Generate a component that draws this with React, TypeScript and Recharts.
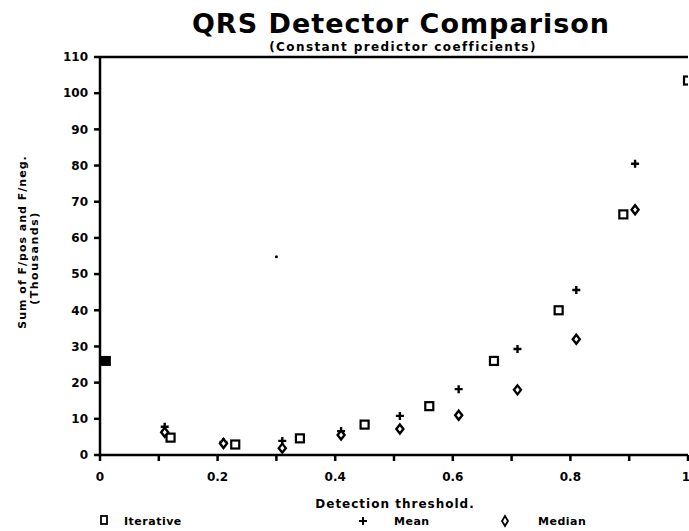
import React from 'react';
import { ScatterChart, Scatter, XAxis, YAxis, ReferenceLine } from 'recharts';

// Detection threshold ticks (labels only on every other one)
const xTicks = [0, 0.1, 0.2, 0.3, 0.4, 0.5, 0.6, 0.7, 0.8, 0.9, 1];
const yTicks = [0, 10, 20, 30, 40, 50, 60, 70, 80, 90, 100, 110];

// Sum of F/pos and F/neg (thousands)
const iterative = [
  { x: 0.12, y: 4.8 },
  { x: 0.23, y: 2.9 },
  { x: 0.34, y: 4.6 },
  { x: 0.45, y: 8.4 },
  { x: 0.56, y: 13.5 },
  { x: 0.67, y: 26 },
  { x: 0.78, y: 40 },
  { x: 0.89, y: 66.5 },
  { x: 1.0, y: 103.5 },
];
const iterativeStart = [{ x: 0.01, y: 26 }];
const mean = [
  { x: 0.11, y: 7.8 },
  { x: 0.21, y: 3.6 },
  { x: 0.31, y: 3.9 },
  { x: 0.41, y: 6.6 },
  { x: 0.51, y: 10.8 },
  { x: 0.61, y: 18.2 },
  { x: 0.71, y: 29.3 },
  { x: 0.81, y: 45.6 },
  { x: 0.91, y: 80.5 },
];
const median = [
  { x: 0.11, y: 6.3 },
  { x: 0.21, y: 3.2 },
  { x: 0.31, y: 1.9 },
  { x: 0.41, y: 5.5 },
  { x: 0.51, y: 7.2 },
  { x: 0.61, y: 11 },
  { x: 0.71, y: 18 },
  { x: 0.81, y: 32 },
  { x: 0.91, y: 67.8 },
];
const stray = [{ x: 0.3, y: 54.8 }];

const font = '"DejaVu Sans", sans-serif';

const Square = (p: any) => (
  <rect x={p.cx - 4} y={p.cy - 4} width={8} height={8} fill="none" stroke="#000" strokeWidth={2.2} />
);
const FilledSquare = (p: any) => (
  <rect x={p.cx - 5} y={p.cy - 5} width={10} height={10} fill="#000" />
);
const Plus = (p: any) => (
  <path d={`M${p.cx - 4},${p.cy}H${p.cx + 4}M${p.cx},${p.cy - 4}V${p.cy + 4}`} stroke="#000" strokeWidth={2.4} />
);
const Diamond = (p: any) => (
  <path d={`M${p.cx},${p.cy - 4.5}L${p.cx + 3.5},${p.cy}L${p.cx},${p.cy + 4.5}L${p.cx - 3.5},${p.cy}Z`} fill="#fff" stroke="#000" strokeWidth={2.4} />
);
const Dot = (p: any) => <circle cx={p.cx} cy={p.cy} r={1.5} fill="#000" />;

export default function App() {
  return (
    <div style={{ position: 'absolute', left: 0, top: 0, width: 689, height: 531, background: '#fff' }}>
      <ScatterChart width={689} height={531} margin={{ top: 57, right: 1, bottom: 46, left: 0 }}>
        <XAxis
          type="number"
          dataKey="x"
          domain={[0, 1]}
          ticks={xTicks}
          tickFormatter={(v: number, i: number) => (i % 2 === 0 ? String(Math.round(v * 10) / 10) : '')}
          axisLine={{ stroke: '#000', strokeWidth: 2.5 }}
          tickLine={{ stroke: '#000', strokeWidth: 2.5 }}
          tickSize={6}
          tickMargin={11}
          tick={{ fill: '#000', fontSize: 12, fontWeight: 'bold', fontFamily: font }}
          height={30}
          allowDataOverflow
        />
        <YAxis
          type="number"
          dataKey="y"
          domain={[0, 110]}
          ticks={yTicks}
          axisLine={{ stroke: '#000', strokeWidth: 2.5 }}
          tickLine={{ stroke: '#000', strokeWidth: 2.5 }}
          tickSize={6}
          tickMargin={6}
          tick={{ fill: '#000', fontSize: 12, fontWeight: 'bold', fontFamily: font }}
          width={100}
        />
        <ReferenceLine y={110} stroke="#000" strokeWidth={2.5} />
        <Scatter data={iterative} shape={Square} isAnimationActive={false} />
        <Scatter data={iterativeStart} shape={FilledSquare} isAnimationActive={false} />
        <Scatter data={mean} shape={Plus} isAnimationActive={false} />
        <Scatter data={median} shape={Diamond} isAnimationActive={false} />
        <Scatter data={stray} shape={Dot} isAnimationActive={false} />
      </ScatterChart>
      <svg width={689} height={531} style={{ position: 'absolute', left: 0, top: 0, pointerEvents: 'none' }}>
        <g fontFamily={font} fontWeight="bold" fill="#000">
          <text x={401} y={33} textAnchor="middle" fontSize={27} letterSpacing={1}>QRS Detector Comparison</text>
          <text x={403} y={51} textAnchor="middle" fontSize={12} letterSpacing={1.4}>(Constant predictor coefficients)</text>
          <text transform="translate(26,242) rotate(-90)" textAnchor="middle" fontSize={11} letterSpacing={1}>Sum of F/pos and F/neg.</text>
          <text transform="translate(38,258) rotate(-90)" textAnchor="middle" fontSize={11} letterSpacing={1.5}>(Thousands)</text>
          <text x={395} y={508} textAnchor="middle" fontSize={12} letterSpacing={1}>Detection threshold.</text>
          <rect x={101} y={516} width={6} height={8} fill="none" stroke="#000" strokeWidth={1.8} />
          <text x={124} y={525} fontSize={11} letterSpacing={0.5}>Iterative</text>
          <path d="M359,521H367M363,517V525" stroke="#000" strokeWidth={2} />
          <text x={394} y={525} fontSize={11} letterSpacing={0.5}>Mean</text>
          <path d="M505,516L508,521L505,526L502,521Z" fill="none" stroke="#000" strokeWidth={1.8} />
          <text x={538} y={525} fontSize={11} letterSpacing={0.5}>Median</text>
        </g>
      </svg>
    </div>
  );
}
